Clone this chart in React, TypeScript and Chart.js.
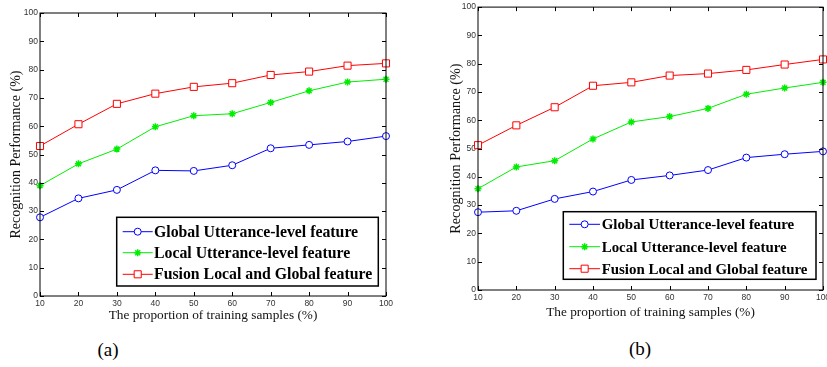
import React, { useEffect, useRef } from "react";
import { Chart, registerables } from "chart.js";

Chart.register(...registerables);

// ---------- data ----------
const proportions = [10, 20, 30, 40, 50, 60, 70, 80, 90, 100];
const seriesNames = [
  "Global Utterance-level feature",
  "Local Utterance-level feature",
  "Fusion Local and Global feature",
];
const globalA = [27.8, 34.5, 37.5, 44.4, 44.2, 46.2, 52.2, 53.4, 54.6, 56.5];
const localA = [39.0, 46.7, 51.9, 59.8, 63.7, 64.4, 68.4, 72.5, 75.6, 76.6];
const fusionA = [53.0, 60.7, 67.9, 71.5, 73.9, 75.2, 78.1, 79.3, 81.4, 82.2];
const globalB = [27.5, 28.0, 32.2, 34.8, 38.9, 40.5, 42.4, 46.8, 48.0, 49.0];
const localB = [35.8, 43.5, 45.7, 53.4, 59.4, 61.3, 64.2, 69.2, 71.4, 73.4];
const fusionB = [51.2, 58.2, 64.6, 72.2, 73.4, 75.8, 76.5, 77.8, 79.7, 81.5];
const yMin = 0;
const yMax = 100;
const yStep = 10;
const xMin = 10;
const xMax = 100;
const xStep = 10;
const xTitle = "The proportion of training samples (%)";
const yTitle = "Recognition Performance (%)";
const captions = ["(a)", "(b)"];

// ---------- styles ----------
const colors = ["#0000ff", "#00ee00", "#ff0000"];
const pointStyles = ["circle", "star", "rect"];
const serif = "'Liberation Serif', 'Times New Roman', serif";
const sans = "'Liberation Sans', Arial, sans-serif";

function drawMarker(ctx: CanvasRenderingContext2D, style: string, x: number, y: number, r: number, color: string) {
  ctx.save();
  ctx.strokeStyle = color;
  ctx.fillStyle = "#fff";
  ctx.lineWidth = 1;
  ctx.beginPath();
  if (style === "circle") {
    ctx.arc(x, y, r, 0, Math.PI * 2);
    ctx.fill();
    ctx.stroke();
  } else if (style === "rect") {
    const s = r * Math.SQRT1_2;
    ctx.rect(x - s, y - s, 2 * s, 2 * s);
    ctx.fill();
    ctx.stroke();
  } else {
    ctx.lineWidth = 1.5;
    const d = r * Math.SQRT1_2;
    ctx.moveTo(x - r, y); ctx.lineTo(x + r, y);
    ctx.moveTo(x, y - r); ctx.lineTo(x, y + r);
    ctx.moveTo(x - d, y - d); ctx.lineTo(x + d, y + d);
    ctx.moveTo(x - d, y + d); ctx.lineTo(x + d, y - d);
    ctx.stroke();
  }
  ctx.restore();
}

const framePlugin = {
  id: "frameLegend",
  afterDraw(chart: any, _args: any, opts: any) {
    const ctx: CanvasRenderingContext2D = chart.ctx;
    const { left, right, top, bottom } = chart.chartArea;
    const xs = chart.scales.x;
    const ys = chart.scales.y;
    ctx.save();
    ctx.strokeStyle = "#000";
    ctx.lineWidth = 1;
    ctx.strokeRect(left, top, right - left, bottom - top);
    const tl = 4;
    ctx.beginPath();
    for (let v = xMin; v <= xMax; v += xStep) {
      const px = Math.round(xs.getPixelForValue(v)) + 0.5;
      ctx.moveTo(px, bottom); ctx.lineTo(px, bottom - tl);
      ctx.moveTo(px, top); ctx.lineTo(px, top + tl);
    }
    for (let v = yMin; v <= yMax; v += yStep) {
      const py = Math.round(ys.getPixelForValue(v)) + 0.5;
      ctx.moveTo(left, py); ctx.lineTo(left + tl, py);
      ctx.moveTo(right, py); ctx.lineTo(right - tl, py);
    }
    ctx.stroke();

    // legend box
    const L = opts;
    ctx.fillStyle = "#fff";
    ctx.fillRect(L.x, L.y, L.w, L.h);
    ctx.lineWidth = 1.5;
    ctx.strokeStyle = "#000";
    ctx.strokeRect(L.x, L.y, L.w, L.h);
    chart.data.datasets.forEach((ds: any, i: number) => {
      const ry = L.rows[i];
      ctx.strokeStyle = ds.borderColor;
      ctx.lineWidth = 1;
      ctx.beginPath();
      ctx.moveTo(L.lineX0, ry);
      ctx.lineTo(L.lineX1, ry);
      ctx.stroke();
      drawMarker(ctx, ds.pointStyle, (L.lineX0 + L.lineX1) / 2, ry, ds.pointRadius, ds.borderColor);
      ctx.fillStyle = "#000";
      ctx.font = `bold ${L.fontSize}px ${serif}`;
      ctx.textAlign = "left";
      ctx.textBaseline = "middle";
      ctx.fillText(ds.label, L.textX, ry + 1);
    });
    ctx.restore();
  },
};

type PanelCfg = {
  canvasLeft: number;
  width: number;
  height: number;
  padTop: number;
  padRight: number;
  yAxisW: number;
  xAxisH: number;
  xTitlePad: number;
  yTitlePad: number;
  yTitleSize: number;
  xTitleSize: number;
  legend: any;
  series: number[][];
};

const panels: PanelCfg[] = [
  {
    canvasLeft: 0, width: 400, height: 330, padTop: 13, padRight: 14,
    yAxisW: 40, xAxisH: 34, xTitlePad: 6.3, yTitlePad: 7.6, yTitleSize: 14, xTitleSize: 13.3,
    legend: { x: 116.7, y: 217.3, w: 261.6, h: 68.7, rows: [231.7, 252.7, 274.3], lineX0: 122.7, lineX1: 152.7, textX: 154, fontSize: 15.8 },
    series: [globalA, localA, fusionA],
  },
  {
    canvasLeft: 437, width: 400, height: 330, padTop: 2, padRight: 14,
    yAxisW: 41, xAxisH: 40, xTitlePad: 9.3, yTitlePad: 11, yTitleSize: 14.2, xTitleSize: 13.3,
    legend: { x: 126.3, y: 211.7, w: 252.7, h: 67.6, rows: [224.3, 246.7, 268.7], lineX0: 132.3, lineX1: 163, textX: 164.7, fontSize: 14.9 },
    series: [globalB, localB, fusionB],
  },
];

function Panel({ cfg }: { cfg: PanelCfg }) {
  const ref = useRef<HTMLCanvasElement>(null);
  useEffect(() => {
    if (!ref.current) return;
    const chart = new Chart(ref.current, {
      type: "line",
      data: {
        datasets: cfg.series.map((vals, i) => ({
          label: seriesNames[i],
          data: proportions.map((x, j) => ({ x, y: vals[j] })),
          borderColor: colors[i],
          backgroundColor: colors[i],
          borderWidth: 1,
          pointStyle: pointStyles[i],
          pointRadius: i === 2 ? 5 : 3.5,
          pointBorderWidth: i === 1 ? 1.5 : 1,
          pointBackgroundColor: i === 1 ? colors[i] : "#fff",
          pointBorderColor: colors[i],
          tension: 0,
          clip: false as any,
        })),
      },
      options: {
        responsive: false,
        animation: false,
        devicePixelRatio: 1,
        layout: { padding: { top: cfg.padTop, right: cfg.padRight, left: 0, bottom: 0 } },
        plugins: {
          legend: { display: false },
          tooltip: { enabled: false },
          frameLegend: cfg.legend,
        } as any,
        scales: {
          x: {
            type: "linear",
            min: xMin,
            max: xMax,
            grid: { display: false, drawTicks: false },
            border: { display: false },
            ticks: { stepSize: xStep, padding: 3, color: "#333", font: { family: sans, size: 8.5 }, maxRotation: 0 },
            title: { display: true, text: xTitle, color: "#111", font: { family: serif, size: cfg.xTitleSize }, padding: { top: 0, bottom: cfg.xTitlePad } },
            afterFit: (s: any) => { s.height = cfg.xAxisH; },
          },
          y: {
            type: "linear",
            min: yMin,
            max: yMax,
            grid: { display: false, drawTicks: false },
            border: { display: false },
            ticks: { stepSize: yStep, padding: 2, color: "#333", font: { family: sans, size: 8.5 } },
            title: { display: true, text: yTitle, color: "#111", font: { family: serif, size: cfg.yTitleSize }, padding: { top: cfg.yTitlePad, bottom: 0 } },
            afterFit: (s: any) => { s.width = cfg.yAxisW; },
          },
        },
      },
      plugins: [framePlugin as any],
    });
    return () => chart.destroy();
  }, [cfg]);
  return (
    <canvas
      ref={ref}
      width={cfg.width}
      height={cfg.height}
      style={{ position: "absolute", left: cfg.canvasLeft, top: 0, width: cfg.width, height: cfg.height }}
    />
  );
}

export default function App() {
  return (
    <div style={{ position: "fixed", left: 0, top: 0, width: 827, height: 367, overflow: "hidden", background: "#fff" }}>
      {panels.map((p, i) => (
        <Panel key={i} cfg={p} />
      ))}
      <div style={{ position: "absolute", left: 108, top: 349, transform: "translate(-50%,-50%)", fontFamily: serif, fontSize: 19, lineHeight: 1 }}>
        {captions[0]}
      </div>
      <div style={{ position: "absolute", left: 640, top: 348, transform: "translate(-50%,-50%)", fontFamily: serif, fontSize: 19, lineHeight: 1 }}>
        {captions[1]}
      </div>
    </div>
  );
}
